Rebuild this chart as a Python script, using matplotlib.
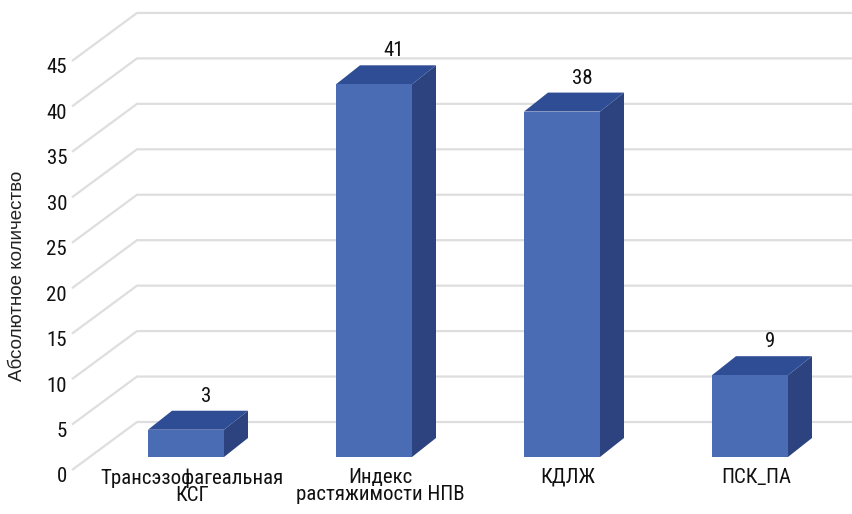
import numpy as np
import matplotlib
matplotlib.use("Agg")
import matplotlib.pyplot as plt
from matplotlib.patches import Polygon

categories = ["Трансэзофагеальная\nКСГ", "Индекс\nрастяжимости НПВ", "КДЛЖ", "ПСК_ПА"]
values = [3, 41, 38, 9]
yticks = [0, 5, 10, 15, 20, 25, 30, 35, 40, 45]
ylabel = "Абсолютное количество"

# colours of the 3d columns
front_col = "#4A6CB4"
top_col = "#2F4D95"
side_col = "#2C437F"
grid_col = "#DEDEDE"

plt.rcParams['font.family'] = ['DejaVu Sans Condensed', 'Roboto Condensed', 'Roboto', 'DejaVu Sans']

fig = plt.figure(figsize=(8.52, 5.14), dpi=100)
ax = fig.add_axes([0, 0, 1, 1])
# pixel layout: category i -> 186 + 188*i, value v -> 457 - 9.09*v (from top)
px_x, px_v = 188.0, 9.09
ax.set_xlim(-186 / px_x, (852 - 186) / px_x)
ax.set_ylim(-57 / px_v, 457 / px_v)
ax.axis("off")

def dx(p):
    return p / px_x

def dy(p):
    return p / px_v

# perspective gridlines (left wall diagonal + back wall horizontal)
x_front, x_back = dx(72 - 186), dx(137 - 186)
for v in yticks:
    ax.plot([x_front, x_back, ax.get_xlim()[1]],
            [v - dy(13), v + dy(35), v + dy(35)],
            color=grid_col, lw=1.6, zorder=1, solid_capstyle="butt")
    ax.text(dx(67 - 186), v - dy(20), str(v), ha="right", va="center",
            fontsize=15, color="#111111")

# 3d columns
w = dx(76)
ddx, ddy = dx(24), dy(19)
x = np.arange(len(values))
ax.bar(x, values, width=w, color=front_col, zorder=4)
for xi, v in zip(x, values):
    l, r = xi - w / 2, xi + w / 2
    ax.add_patch(Polygon([(r, 0), (r + ddx, ddy), (r + ddx, v + ddy), (r, v)],
                         closed=True, facecolor=side_col, edgecolor="none", zorder=3))
    ax.add_patch(Polygon([(l, v), (r, v), (r + ddx, v + ddy), (l + ddx, v + ddy)],
                         closed=True, facecolor=top_col, edgecolor="none", zorder=3))
    ax.text(xi + dx(20), v + ddy + dy(5), str(v), ha="center", va="bottom",
            fontsize=15, color="#111111")

for xi, lab in zip(x, categories):
    ax.text(xi + dx(6), dy(457 - 468), lab, ha="center", va="top",
            fontsize=15, linespacing=0.9, color="#111111")

fig.text(18 / 852, 1 - 276 / 514, ylabel, rotation=90, ha="center", va="center",
         fontsize=13.5, family=['Liberation Sans', 'DejaVu Sans'], color="#222222")

fig.savefig("out.png", dpi=100)
